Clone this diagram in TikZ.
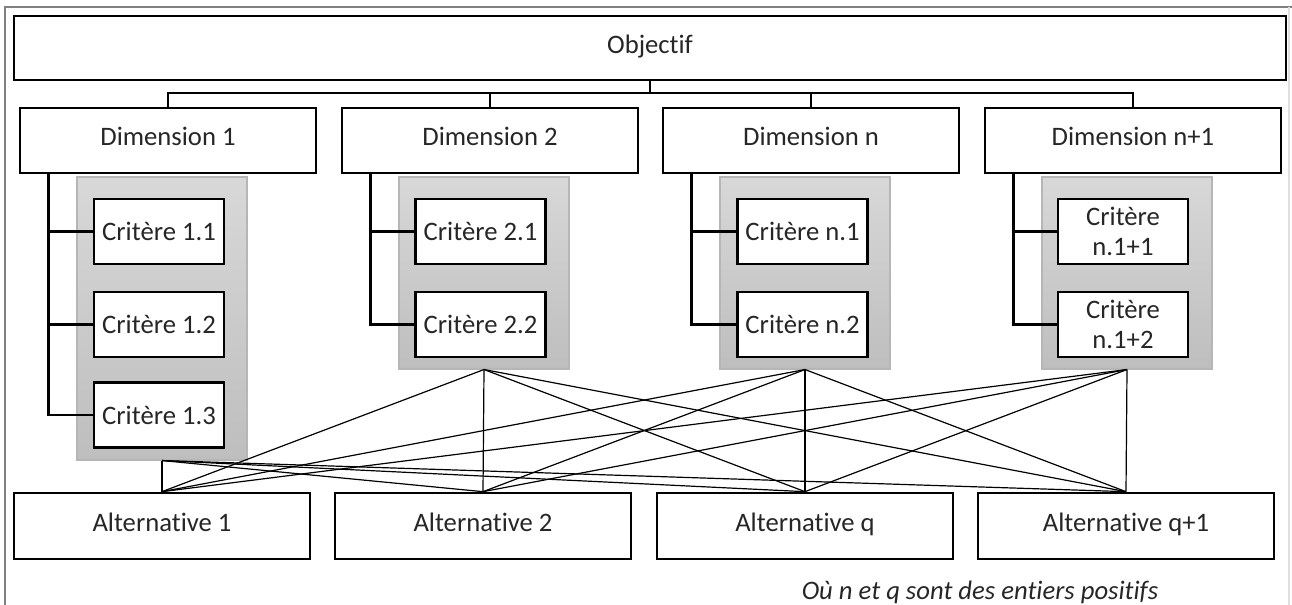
\documentclass[tikz,border=0pt]{standalone}
\usepackage{fontspec}
\setmainfont{Carlito}[Ligatures=NoCommon]
\usepackage{tikz}
\usetikzlibrary{calc}
\definecolor{framegray}{RGB}{128,128,128}
\definecolor{grouptop}{RGB}{216,216,216}
\definecolor{groupbot}{RGB}{190,190,190}
\definecolor{groupline}{RGB}{182,182,182}
\definecolor{inkgray}{RGB}{38,38,38}

\begin{document}
\begin{tikzpicture}[x=0.75pt, y=-0.75pt, font=\fontsize{20}{22.5}\selectfont,
    box/.style={draw, line width=2pt, fill=white, text=inkgray, inner sep=0pt, text height=13pt, text depth=5pt, minimum width=222pt, minimum height=48.75pt},
    critbox/.style={box, minimum width=97.5pt, align=center, text height={}, text depth={}},
    group/.style={draw=groupline, line width=0.8pt, top color=grouptop, bottom color=groupbot, minimum width=127.5pt, inner sep=0pt},
    bus/.style={line width=2pt},
    link/.style={line width=0.9pt}]
  \useasboundingbox (0,0) rectangle (1292,605);
  \draw[framegray, line width=1.5pt] (5,605) -- (5,7) -- (1292,7);
  \draw[gray!25, line width=1pt] (1289,7) -- (1289,605);

  % objective and dimensions
  \node[box, minimum width=954pt, minimum height=48pt] (obj) at (650,48) {Objectif};
  \node[box] (d1) at (168,140.5) {Dimension 1};
  \node[box] (d2) at (490,140.5) {Dimension 2};
  \node[box] (dn) at (811,140.5) {Dimension n};
  \node[box] (dm) at (1133,140.5) {Dimension n+1};
  \coordinate (hub) at (650,93);
  \draw[bus] (obj.south) -- (hub);
  \draw[bus] (d1.north) |- (hub) -| (dm.north);
  \draw[bus] (d2.north) -- (d2.north |- hub);
  \draw[bus] (dn.north) -- (dn.north |- hub);

  % criteria groups
  \node[group, minimum height=212.25pt] (g1) at (162,318.5) {};
  \node[group, minimum height=144pt] (g2) at (484,273) {};
  \node[group, minimum height=144pt] (gn) at (805,273) {};
  \node[group, minimum height=144pt] (gm) at (1127,273) {};

  \node[critbox] (c11) at (159,231.5) {Critère 1.1};
  \node[critbox] (c12) at (159,324.5) {Critère 1.2};
  \node[critbox] (c13) at (159,415) {Critère 1.3};
  \node[critbox] (c21) at (480.5,231.5) {Critère 2.1};
  \node[critbox] (c22) at (480.5,324.5) {Critère 2.2};
  \node[critbox] (cn1) at (802.5,231.5) {Critère n.1};
  \node[critbox] (cn2) at (802.5,324.5) {Critère n.2};
  \node[critbox] (cm1) at (1123,231.5) {Critère\\n.1+1};
  \node[critbox] (cm2) at (1123,324.5) {Critère\\n.1+2};

  \coordinate (b1) at ($(d1.south west)+(30,0)$);
  \coordinate (b2) at ($(d2.south west)+(30,0)$);
  \coordinate (bn) at ($(dn.south west)+(30,0)$);
  \coordinate (bm) at ($(dm.south west)+(30,0)$);
  \draw[bus] (b1) |- (c13.west);
  \draw[bus] (c11.west) -- (c11.west -| b1);
  \draw[bus] (c12.west) -- (c12.west -| b1);
  \draw[bus] (b2) |- (c22.west);
  \draw[bus] (c21.west) -- (c21.west -| b2);
  \draw[bus] (bn) |- (cn2.west);
  \draw[bus] (cn1.west) -- (cn1.west -| bn);
  \draw[bus] (bm) |- (cm2.west);
  \draw[bus] (cm1.west) -- (cm1.west -| bm);

  % alternatives
  \node[box, minimum height=49.5pt] (a1) at (162,526) {Alternative 1};
  \node[box, minimum height=49.5pt] (a2) at (483,526) {Alternative 2};
  \node[box, minimum height=49.5pt] (aq) at (805,526) {Alternative q};
  \node[box, minimum height=49.5pt] (ar) at (1126,526) {Alternative q+1};
  \foreach \g in {g1,g2,gn,gm}
    \foreach \a in {a1,a2,aq,ar}
      \draw[link] (\g.south) -- (\a.north);

  \node[font=\fontsize{20}{22}\selectfont\itshape, text=inkgray] (note) at (980,592) {Où n et q sont des entiers positifs};
\end{tikzpicture}
\end{document}
